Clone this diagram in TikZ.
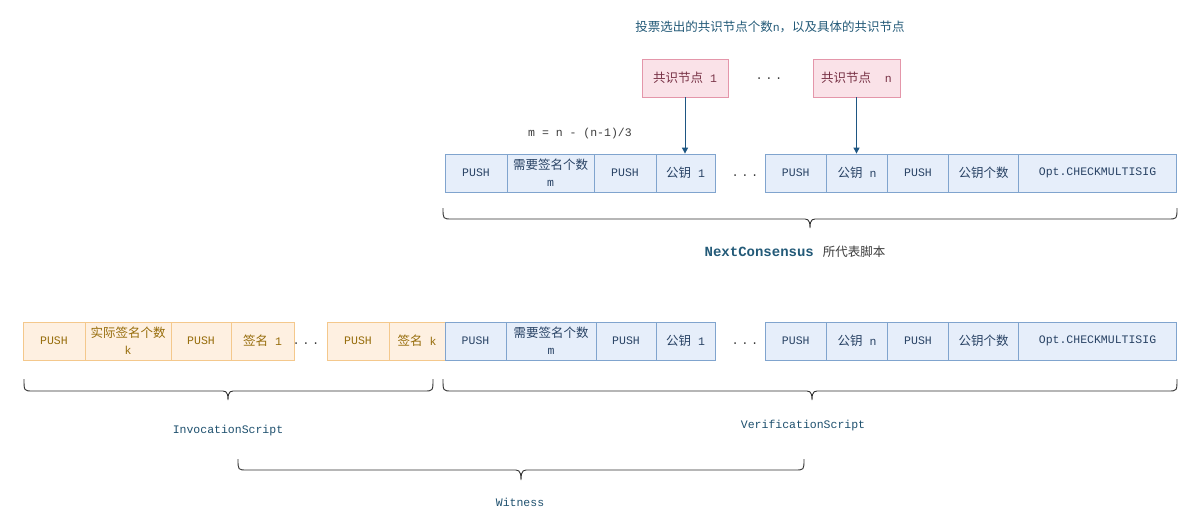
\documentclass[tikz,border=0pt]{standalone}
\usepackage{fontspec}
\setmainfont{Liberation Mono}
\newfontfamily\cjk{Noto Sans CJK SC}
\usetikzlibrary{arrows.meta}
\definecolor{bfill}{RGB}{230,238,250}
\definecolor{bdraw}{RGB}{128,164,206}
\definecolor{btext}{RGB}{40,66,100}
\definecolor{ofill}{RGB}{254,240,225}
\definecolor{odraw}{RGB}{244,200,140}
\definecolor{otext}{RGB}{150,108,10}
\definecolor{pfill}{RGB}{250,226,232}
\definecolor{pdraw}{RGB}{228,150,170}
\definecolor{ptext}{RGB}{120,50,70}
\definecolor{arrc}{RGB}{30,86,130}
\definecolor{titlec}{RGB}{35,90,120}
\definecolor{labc}{RGB}{30,80,110}
\definecolor{grayc}{RGB}{60,60,60}
\definecolor{brcc}{RGB}{50,50,50}
\newcommand\zh[1]{{\cjk\fontsize{12.5pt}{17pt}\selectfont #1}}
\newcommand\threedots{.\hspace{2.5pt}.\hspace{2.5pt}.}
\newcommand\hbrace[6]{\draw[brc] (#1,#4) .. controls (#1,#5) and (#1,#5) .. ({#1+9},#5) -- ({#3-9},#5) .. controls ({#3-3},#5) and (#3,{#5-1}) .. (#3,#6) .. controls (#3,{#5-1}) and ({#3+3},#5) .. ({#3+9},#5) -- ({#2-9},#5) .. controls (#2,#5) and (#2,#5) .. (#2,#4);}
\begin{document}
\begin{tikzpicture}[x=1pt,y=-1pt,
  every node/.style={font=\fontsize{11.5pt}{17pt}\selectfont, inner sep=0pt, align=center},
  bbox/.style={draw=bdraw, fill=bfill, text=btext, minimum height=38pt, line width=0.8pt},
  obox/.style={draw=odraw, fill=ofill, text=otext, minimum height=38pt, line width=0.8pt},
  pbox/.style={draw=pdraw, fill=pfill, text=ptext, minimum height=38pt, line width=0.8pt},
  dots/.style={text=grayc, font=\fontsize{12pt}{17pt}\selectfont},
  arr/.style={draw=arrc, line width=1pt, -{Triangle[length=6pt,width=6pt]}},
  brc/.style={draw=brcc, line width=0.9pt},
  lab/.style={text=labc}]
\fill[white] (0,0) rectangle (1201,522);
\useasboundingbox (0,0) rectangle (1201,522);

% title
\node[text=titlec] (title) at (770,27) {\zh{投票选出的共识节点个数}n\zh{，以及具体的共识节点}};

% consensus nodes
\node[pbox, minimum width=86pt] (k1) at (685,78) {\zh{共识节点}\ 1};
\node[dots] (kd) at (769,79) {\threedots};
\node[pbox, minimum width=87pt] (kn) at (856.5,78) {\zh{共识节点}\ \ n};

\node[text=grayc] (mform) at (580,134) {m = n - (n-1)/3};

% top row
\node[bbox, minimum width=62pt] (t1) at (476,173) {PUSH};
\node[bbox, minimum width=87pt] (t2) at (550.5,173) {\zh{需要签名个数}\\m};
\node[bbox, minimum width=62pt] (t3) at (625,173) {PUSH};
\node[bbox, minimum width=59pt] (t4) at (685.5,173) {\zh{公钥}\ 1};
\node[dots] (td) at (745,176) {\threedots};
\node[bbox, minimum width=61.5pt] (t5) at (795.75,173) {PUSH};
\node[bbox, minimum width=61pt] (t6) at (857,173) {\zh{公钥}\ n};
\node[bbox, minimum width=61pt] (t7) at (918,173) {PUSH};
\node[bbox, minimum width=70pt] (t8) at (983.5,173) {\zh{公钥个数}};
\node[bbox, minimum width=158pt] (t9) at (1097.5,173) {Opt.CHECKMULTISIG};

\draw[arr] (k1.south) -- (k1.south |- t4.north);
\draw[arr] (kn.south) -- (kn.south |- t6.north);

\hbrace{443}{1177}{810}{208}{219}{228}
\node (nc) at (795,252) {{\color{titlec}\bfseries\fontsize{14pt}{17pt}\selectfont NextConsensus}\hspace{9pt}{\color{grayc}\zh{所代表脚本}}};

% bottom row: invocation
\node[obox, minimum width=62pt] (b1) at (54,341) {PUSH};
\node[obox, minimum width=86pt] (b2) at (128,341) {\zh{实际签名个数}\\k};
\node[obox, minimum width=60pt] (b3) at (201,341) {PUSH};
\node[obox, minimum width=63pt] (b4) at (262.5,341) {\zh{签名}\ 1};
\node[dots] (bd) at (306,344) {\threedots};
\node[obox, minimum width=62pt] (b5) at (358,341) {PUSH};
\node[obox, minimum width=56pt] (b6) at (417,341) {\zh{签名}\ k};

% bottom row: verification
\node[bbox, minimum width=61pt] (c1) at (475.5,341) {PUSH};
\node[bbox, minimum width=90pt] (c2) at (551,341) {\zh{需要签名个数}\\m};
\node[bbox, minimum width=60pt] (c3) at (626,341) {PUSH};
\node[bbox, minimum width=59pt] (c4) at (685.5,341) {\zh{公钥}\ 1};
\node[dots] (cd) at (745,344) {\threedots};
\node[bbox, minimum width=61.5pt] (c5) at (795.75,341) {PUSH};
\node[bbox, minimum width=61pt] (c6) at (857,341) {\zh{公钥}\ n};
\node[bbox, minimum width=61pt] (c7) at (918,341) {PUSH};
\node[bbox, minimum width=70pt] (c8) at (983.5,341) {\zh{公钥个数}};
\node[bbox, minimum width=158pt] (c9) at (1097.5,341) {Opt.CHECKMULTISIG};

\hbrace{24}{433}{228}{379}{391}{400}
\hbrace{443}{1177}{812}{379}{391}{400}
\node[lab] (inv) at (228,431) {InvocationScript};
\node[lab] (ver) at (803,426) {VerificationScript};

\hbrace{238}{804}{521}{459}{470}{480}
\node[lab] (wit) at (520,502) {Witness};
\end{tikzpicture}
\end{document}
